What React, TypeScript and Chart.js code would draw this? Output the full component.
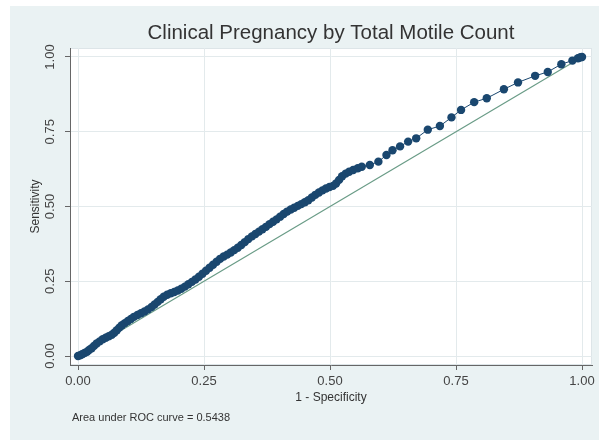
import React, { useEffect, useRef } from "react";
import { Chart, registerables } from "chart.js";

Chart.register(...registerables);

// ROC curve points (1 - specificity, sensitivity)
const rocX = [
  0.000, 0.004, 0.008, 0.013, 0.018, 0.022, 0.027, 0.032, 0.037, 0.043,
  0.049, 0.055, 0.061, 0.067, 0.072, 0.077, 0.082, 0.087, 0.093, 0.099,
  0.105, 0.111, 0.118, 0.125, 0.132, 0.139, 0.146, 0.152, 0.158, 0.164,
  0.170, 0.177, 0.184, 0.191, 0.198, 0.205, 0.212, 0.219, 0.226, 0.233,
  0.240, 0.247, 0.254, 0.261, 0.268, 0.275, 0.282, 0.289, 0.296, 0.303,
  0.310, 0.317, 0.324, 0.331, 0.338, 0.345, 0.352, 0.359, 0.366, 0.373,
  0.380, 0.387, 0.394, 0.401, 0.408, 0.415, 0.422, 0.429, 0.436, 0.443,
  0.450, 0.457, 0.464, 0.471, 0.478, 0.485, 0.492, 0.499, 0.506, 0.512,
  0.518, 0.524, 0.531, 0.538, 0.546, 0.555, 0.563, 0.579, 0.596, 0.612,
  0.624, 0.639, 0.655, 0.671, 0.694, 0.718, 0.741, 0.760, 0.786, 0.811,
  0.845, 0.873, 0.907, 0.932, 0.959, 0.981, 0.992, 0.997, 1.000,
];
const rocY = [
  0.000, 0.002, 0.006, 0.010, 0.014, 0.020, 0.026, 0.034, 0.042, 0.049,
  0.056, 0.061, 0.066, 0.071, 0.078, 0.086, 0.095, 0.103, 0.110, 0.117,
  0.124, 0.131, 0.137, 0.143, 0.149, 0.156, 0.164, 0.172, 0.181, 0.190,
  0.198, 0.205, 0.210, 0.214, 0.219, 0.225, 0.232, 0.240, 0.248, 0.256,
  0.265, 0.275, 0.285, 0.295, 0.305, 0.315, 0.325, 0.333, 0.339, 0.346,
  0.354, 0.362, 0.371, 0.381, 0.391, 0.400, 0.408, 0.416, 0.424, 0.432,
  0.441, 0.449, 0.457, 0.466, 0.475, 0.483, 0.490, 0.496, 0.502, 0.508,
  0.514, 0.521, 0.530, 0.539, 0.547, 0.554, 0.560, 0.565, 0.569, 0.577,
  0.589, 0.601, 0.610, 0.616, 0.622, 0.628, 0.633, 0.639, 0.650, 0.672,
  0.688, 0.701, 0.717, 0.728, 0.757, 0.769, 0.798, 0.823, 0.849, 0.862,
  0.892, 0.915, 0.937, 0.950, 0.976, 0.988, 0.996, 0.999, 1.000,
];

// Reference (chance) line
const refX = [0, 1];
const refY = [0, 1];

const tickValues = [0, 0.25, 0.5, 0.75, 1];
const tickLabels = ["0.00", "0.25", "0.50", "0.75", "1.00"];

const titleText = "Clinical Pregnancy by Total Motile Count";
const xTitleText = "1 - Specificity";
const yTitleText = "Sensitivity";
const noteText = "Area under ROC curve = 0.5438";

const FONT = "'Liberation Sans', Arial, sans-serif";

const stataPlugin = {
  id: "stataBackground",
  beforeDraw(chart: any) {
    const { ctx, chartArea: a } = chart;
    ctx.save();
    ctx.fillStyle = "#ffffff";
    ctx.fillRect(0, 0, chart.width, chart.height);
    ctx.fillStyle = "#eaf2f3";
    ctx.fillRect(10, 6, chart.width - 10, chart.height - 6);
    ctx.fillStyle = "#ffffff";
    ctx.fillRect(a.left, a.top, a.right - a.left, a.bottom - a.top);
    ctx.strokeStyle = "#dde5e8";
    ctx.lineWidth = 1;
    ctx.strokeRect(a.left + 0.5, a.top + 0.5, a.right - a.left - 1, a.bottom - a.top - 1);
    ctx.restore();
  },
  afterDraw(chart: any) {
    const { ctx } = chart;
    ctx.save();
    ctx.font = `11px ${FONT}`;
    ctx.fillStyle = "#333333";
    ctx.textAlign = "left";
    ctx.textBaseline = "middle";
    ctx.fillText(noteText, 72, 418);
    ctx.restore();
  },
};

export default function App() {
  const canvasRef = useRef<HTMLCanvasElement | null>(null);

  useEffect(() => {
    if (!canvasRef.current) return;
    const rocData = rocX.map((x, i) => ({ x, y: rocY[i] }));
    const refData = refX.map((x, i) => ({ x, y: refY[i] }));
    const labelFor = (v: any) => {
      const i = tickValues.findIndex((t) => Math.abs(t - Number(v)) < 1e-9);
      return i >= 0 ? tickLabels[i] : "";
    };
    const setTicks = (s: any) => {
      s.ticks = tickValues.map((v) => ({ value: v }));
    };

    const chart = new Chart(canvasRef.current, {
      type: "scatter",
      data: {
        datasets: [
          {
            label: "ROC",
            data: rocData,
            showLine: true,
            borderColor: "#1a476f",
            backgroundColor: "#1a476f",
            borderWidth: 1,
            pointRadius: 4.2,
            pointBorderWidth: 0,
            pointHoverRadius: 4.2,
          },
          {
            label: "Reference",
            data: refData,
            showLine: true,
            borderColor: "#6a9c87",
            borderWidth: 1.2,
            pointRadius: 0,
            pointHoverRadius: 0,
          },
        ],
      },
      options: {
        responsive: false,
        animation: false,
        devicePixelRatio: 1,
        layout: { padding: { left: 10, top: 6, right: 7, bottom: 35 } },
        plugins: {
          legend: { display: false },
          tooltip: { enabled: false },
          title: {
            display: true,
            text: titleText,
            fullSize: false,
            color: "#333333",
            font: { family: FONT, size: 20.5, weight: "normal" },
            padding: { top: 14.7, bottom: 2.7 },
          },
        },
        scales: {
          x: {
            type: "linear",
            min: -0.0159,
            max: 1.0198,
            afterBuildTicks: setTicks,
            afterFit: (s: any) => {
              s.height = 40;
              s.paddingLeft = 0;
              s.paddingRight = 0;
            },
            ticks: {
              callback: labelFor,
              autoSkip: false,
              maxRotation: 0,
              minRotation: 0,
              padding: 4,
              color: "#444444",
              font: { family: FONT, size: 13 },
            },
            grid: {
              color: "#e3eaec",
              tickColor: "#666666",
              tickLength: 5,
              drawTicks: true,
            },
            border: { display: true, color: "#666666", width: 1 },
            title: {
              display: true,
              text: xTitleText,
              color: "#333333",
              font: { family: FONT, size: 12 },
              padding: { top: 0, bottom: 0 },
            },
          },
          y: {
            type: "linear",
            min: -0.0301,
            max: 1.0301,
            afterBuildTicks: setTicks,
            afterFit: (s: any) => {
              s.width = 60;
              s.paddingTop = 0;
              s.paddingBottom = 0;
            },
            ticks: {
              callback: labelFor,
              autoSkip: false,
              minRotation: 90,
              maxRotation: 90,
              crossAlign: "center",
              padding: 2,
              color: "#444444",
              font: { family: FONT, size: 13 },
            },
            grid: {
              color: "#e3eaec",
              tickColor: "#666666",
              tickLength: 5,
              drawTicks: true,
            },
            border: { display: true, color: "#666666", width: 1 },
            title: {
              display: true,
              text: yTitleText,
              color: "#333333",
              font: { family: FONT, size: 12 },
              padding: { top: 18, bottom: 0 },
            },
          },
        },
      },
      plugins: [stataPlugin],
    } as any);

    return () => chart.destroy();
  }, []);

  return (
    <div style={{ position: "absolute", left: 0, top: 0, width: 599, height: 440 }}>
      <canvas ref={canvasRef} width={599} height={440} />
    </div>
  );
}
